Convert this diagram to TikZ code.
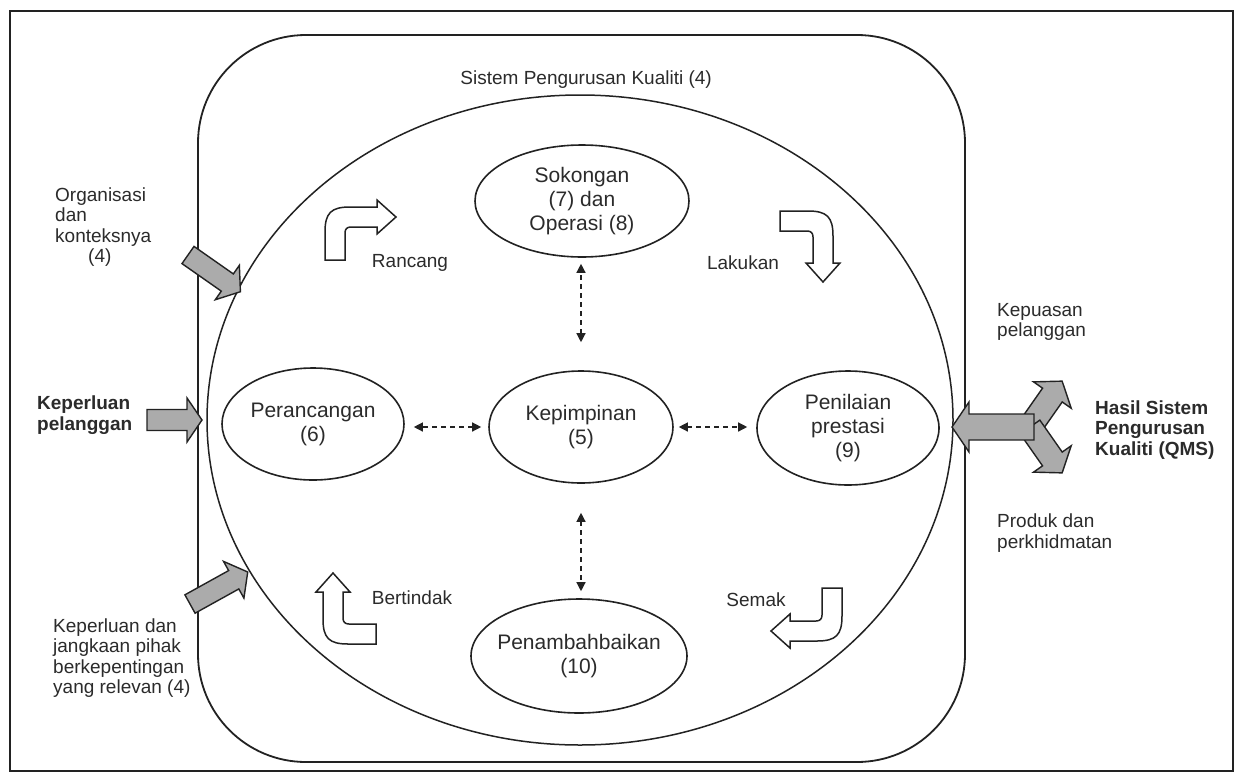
\documentclass[tikz,border=0pt]{standalone}
\usepackage{fontspec}
\setmainfont{Liberation Sans}
\usetikzlibrary{shapes.geometric,arrows.meta}
\definecolor{ink}{HTML}{222222}
\definecolor{txt}{HTML}{2B2B2B}
\definecolor{greyfill}{HTML}{ABABAB}
% #1 tail point, #2 angle, #3 length, #4 shaft half width, #5 head half width, #6 head length
\newcommand\BlockArrow[6]{%
  \begin{scope}[shift={#1},rotate=#2]
    \draw[greyarrow] (0,-#4) -- ({#3-#6},-#4) -- ({#3-#6},-#5) -- (#3,0)
      -- ({#3-#6},#5) -- ({#3-#6},#4) -- (0,#4) -- cycle;
  \end{scope}}
% #1 corner centre, #2 angle
\newcommand\BentArrow[2]{%
  \begin{scope}[shift={#1},rotate=#2]
    \draw[hollowarrow] (-10,43) -- (-10,15) .. controls (-10,-4) and (-4,-10) .. (15,-10)
      -- (42,-10) -- (42,-17) -- (61,0) -- (42,17) -- (42,10) -- (16,10)
      .. controls (12,10) and (10,12) .. (10,16) -- (10,43) -- cycle;
  \end{scope}}
\begin{document}
\begin{tikzpicture}[x=1pt,y=-1pt,
  lbl/.style={font=\fontsize{19}{20.5}\selectfont, text=txt, inner sep=0pt, align=left},
  boldlbl/.style={lbl, font=\fontsize{19}{20.5}\selectfont\bfseries},
  oval/.style={ellipse, draw=ink, line width=1.6pt, inner sep=0pt},
  ovaltext/.style={font=\fontsize{21}{24}\selectfont, text=txt, align=center, inner sep=0pt},
  dashconn/.style={draw=ink, line width=1.3pt, dash pattern=on 5pt off 4pt,
    {Triangle[length=9pt,width=9pt]}-{Triangle[length=9pt,width=9pt]}},
  greyarrow/.style={draw=ink, line width=1.4pt, fill=greyfill, line join=miter},
  hollowarrow/.style={draw=ink, line width=1.5pt, fill=white, line join=miter}]
\useasboundingbox (0,0) rectangle (1245,777);
\fill[white] (0,0) rectangle (1245,777);
% frame
\draw[ink, line width=1.3pt] (10,11) rectangle (1233,771);
% system box
\draw[ink, line width=1.8pt, rounded corners=108pt] (198,35) rectangle (965,762);
% big ellipse
\draw[ink, line width=1.5pt] (580,420) ellipse [x radius=373, y radius=325];
\node[lbl, anchor=east] (title) at (712,80) {Sistem Pengurusan Kualiti (4)};

% ovals
\node[oval, minimum width=214pt, minimum height=112pt] (sok) at (582,201) {};
\node[ovaltext] (soktxt) at (sok.center) {Sokongan\\(7) dan\\Operasi (8)};
\node[oval, minimum width=184pt, minimum height=112pt] (kep) at (581,427) {};
\node[ovaltext] (keptxt) at (kep.center) {Kepimpinan\\(5)};
\node[oval, minimum width=182pt, minimum height=112pt] (per) at (313,424) {};
\node[ovaltext] (pertxt) at (per.center) {Perancangan\\(6)};
\node[oval, minimum width=182pt, minimum height=114pt] (pen) at (848,428) {};
\node[ovaltext] (pentxt) at (pen.center) {Penilaian\\prestasi\\(9)};
\node[oval, minimum width=216pt, minimum height=114pt] (pnb) at (579,656) {};
\node[ovaltext] (pnbtxt) at (pnb.center) {Penambahbaikan\\(10)};

% dashed double arrows
\draw[dashconn, shorten <=28pt, shorten >=6pt] (kep.north) -- (kep.north |- sok.south);
\draw[dashconn, shorten <=29pt, shorten >=7pt] (kep.south) -- (kep.south |- pnb.north);
\draw[dashconn, shorten <=7pt, shorten >=9pt] (kep.west) -- (kep.west -| per.east);
\draw[dashconn, shorten <=5pt, shorten >=9pt] (kep.east) -- (kep.east -| pen.west);

% PDCA bent arrows
\BentArrow{(335,217)}{0}
\BentArrow{(823,221)}{-90}
\BentArrow{(832,631)}{180}
\BentArrow{(333,634)}{90}
\node[lbl] (rancang) at (410,263) {Rancang};
\node[lbl] (lakukan) at (743,263) {Lakukan};
\node[lbl] (semak) at (756,600) {Semak};
\node[lbl] (bertindak) at (412,598) {Bertindak};

% inputs
\BlockArrow{(188,255)}{-35}{64}{10.5}{21}{16}
\BlockArrow{(147,420)}{0}{55}{10.5}{22}{15}
\BlockArrow{(190,604)}{29}{66}{10.5}{21}{16}
\node[lbl, anchor=west] (org) at (55,227) {Organisasi\\dan\\konteksnya\\\hspace*{33pt}(4)};
\node[boldlbl, anchor=west] (kp) at (37,415) {Keperluan\\pelanggan};
\node[lbl, anchor=west] (kj) at (53,658) {Keperluan dan\\jangkaan pihak\\berkepentingan\\yang relevan (4)};

% outputs
\BlockArrow{(1030,427)}{55}{56}{12}{23}{17}
\BlockArrow{(1030,427)}{-55}{56}{12}{23}{17}
\BlockArrow{(1034,427)}{180}{82}{13}{25}{17}
\node[lbl, anchor=west] (kep2) at (997,322) {Kepuasan\\pelanggan};
\node[boldlbl, anchor=west] (hasil) at (1095,430) {Hasil Sistem\\Pengurusan\\Kualiti (QMS)};
\node[lbl, anchor=west] (produk) at (997,533) {Produk dan\\perkhidmatan};
\end{tikzpicture}
\end{document}
